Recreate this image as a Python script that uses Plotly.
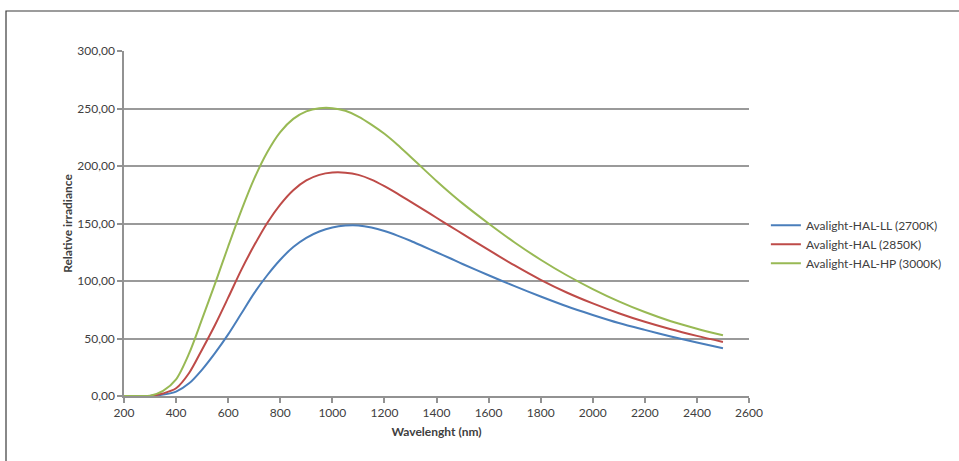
import plotly.graph_objects as go

wavelength = [200, 250, 300, 350, 400, 450, 500, 550, 600, 650, 700, 750, 800, 850, 900, 950,
              1000, 1050, 1100, 1150, 1200, 1250, 1300, 1350, 1400, 1450, 1500,
              1600, 1700, 1800, 1900, 2000, 2100, 2200, 2300, 2400, 2500]

hal_ll = [0, 0, 0.1, 1.2, 3.8, 11, 23, 37.5, 53.6, 71.5, 89.5, 105, 118.5, 129.5, 137.5, 143,
          146.5, 148.2, 148.3, 146.5, 143.5, 139.5, 135, 130, 125, 120, 114.8,
          105, 95.5, 86.5, 78, 70.5, 63.5, 57.5, 51.8, 46.5, 41.5]

hal = [0, 0, 0.1, 2.2, 6.7, 20, 40.5, 62, 85.5, 109.5, 131, 150.5, 166.5, 179, 187.5, 192.3,
       194.3, 194.2, 192.3, 188.2, 182.5, 176, 169, 162, 155, 148, 141,
       127, 113.5, 101, 90, 80.5, 72, 64.5, 58, 52.3, 47]

hal_hp = [0, 0, 0.3, 4.5, 14.5, 37, 67, 98, 130, 161, 189, 212, 229.5, 241, 247.5, 250.2,
          250.3, 248, 243, 236, 228, 218.5, 208, 197.5, 187, 177, 167.5,
          150, 133.5, 118.5, 105, 93, 82.3, 73, 65, 58.5, 52.8]

names = ["Avalight-HAL-LL (2700K)", "Avalight-HAL (2850K)", "Avalight-HAL-HP (3000K)"]
colors = ["#4A7EBB", "#BE4B48", "#98B954"]
x_ticks = list(range(200, 2601, 200))
y_ticks = [0, 50, 100, 150, 200, 250, 300]

FONT = "Lato"
TXT = "#404040"

fig = go.Figure()
for ys, nm, c in zip([hal_ll, hal, hal_hp], names, colors):
    fig.add_trace(go.Scatter(x=wavelength, y=ys, mode="lines", name=nm,
                             line=dict(color=c, width=2, shape="spline", smoothing=0.85)))

fig.update_layout(
    width=959, height=461,
    margin=dict(l=124, r=210, t=51, b=65),
    paper_bgcolor="white", plot_bgcolor="white",
    separators=", ",
    font=dict(family=FONT, size=12, color=TXT),
    showlegend=True,
    legend=dict(x=1.027, y=0.44, xanchor="left", yanchor="middle",
                font=dict(family=FONT, size=12, color=TXT),
                tracegroupgap=0, itemwidth=30, bgcolor="rgba(0,0,0,0)"),
    xaxis=dict(range=[200, 2600], tickvals=x_ticks, showgrid=False,
               showline=True, linecolor="#929292", linewidth=1.5,
               ticks="outside", ticklen=5, tickcolor="#929292", tickwidth=1.5,
               tickfont=dict(family=FONT, size=12, color=TXT),
               title=dict(text="<b>Wavelenght (nm)</b>", standoff=8,
                          font=dict(family=FONT, size=12, color=TXT)),
               zeroline=False),
    yaxis=dict(range=[0, 300], tickvals=y_ticks, tickformat=".2f",
               showgrid=True, gridcolor="#9a9a9a", gridwidth=1.5,
               showline=True, linecolor="#929292", linewidth=1.5,
               ticks="outside", ticklen=5, tickcolor="#929292", tickwidth=1.5,
               tickfont=dict(family=FONT, size=12, color=TXT),
               title=dict(text="<b>Relative irradiance</b>", standoff=2,
                          font=dict(family=FONT, size=12, color=TXT)),
               zeroline=False),
    shapes=[dict(type="rect", xref="paper", yref="paper",
                 x0=(6 - 124) / 625, x1=(975 - 124) / 625,
                 y0=(396 - 475) / 345, y1=(396 - 11) / 345,
                 line=dict(color="#3a3a3a", width=1.2), layer="below")],
)

fig.write_html("out.html", config={"displayModeBar": False},
               post_script="document.body.style.margin='0';document.body.style.overflow='hidden';")
